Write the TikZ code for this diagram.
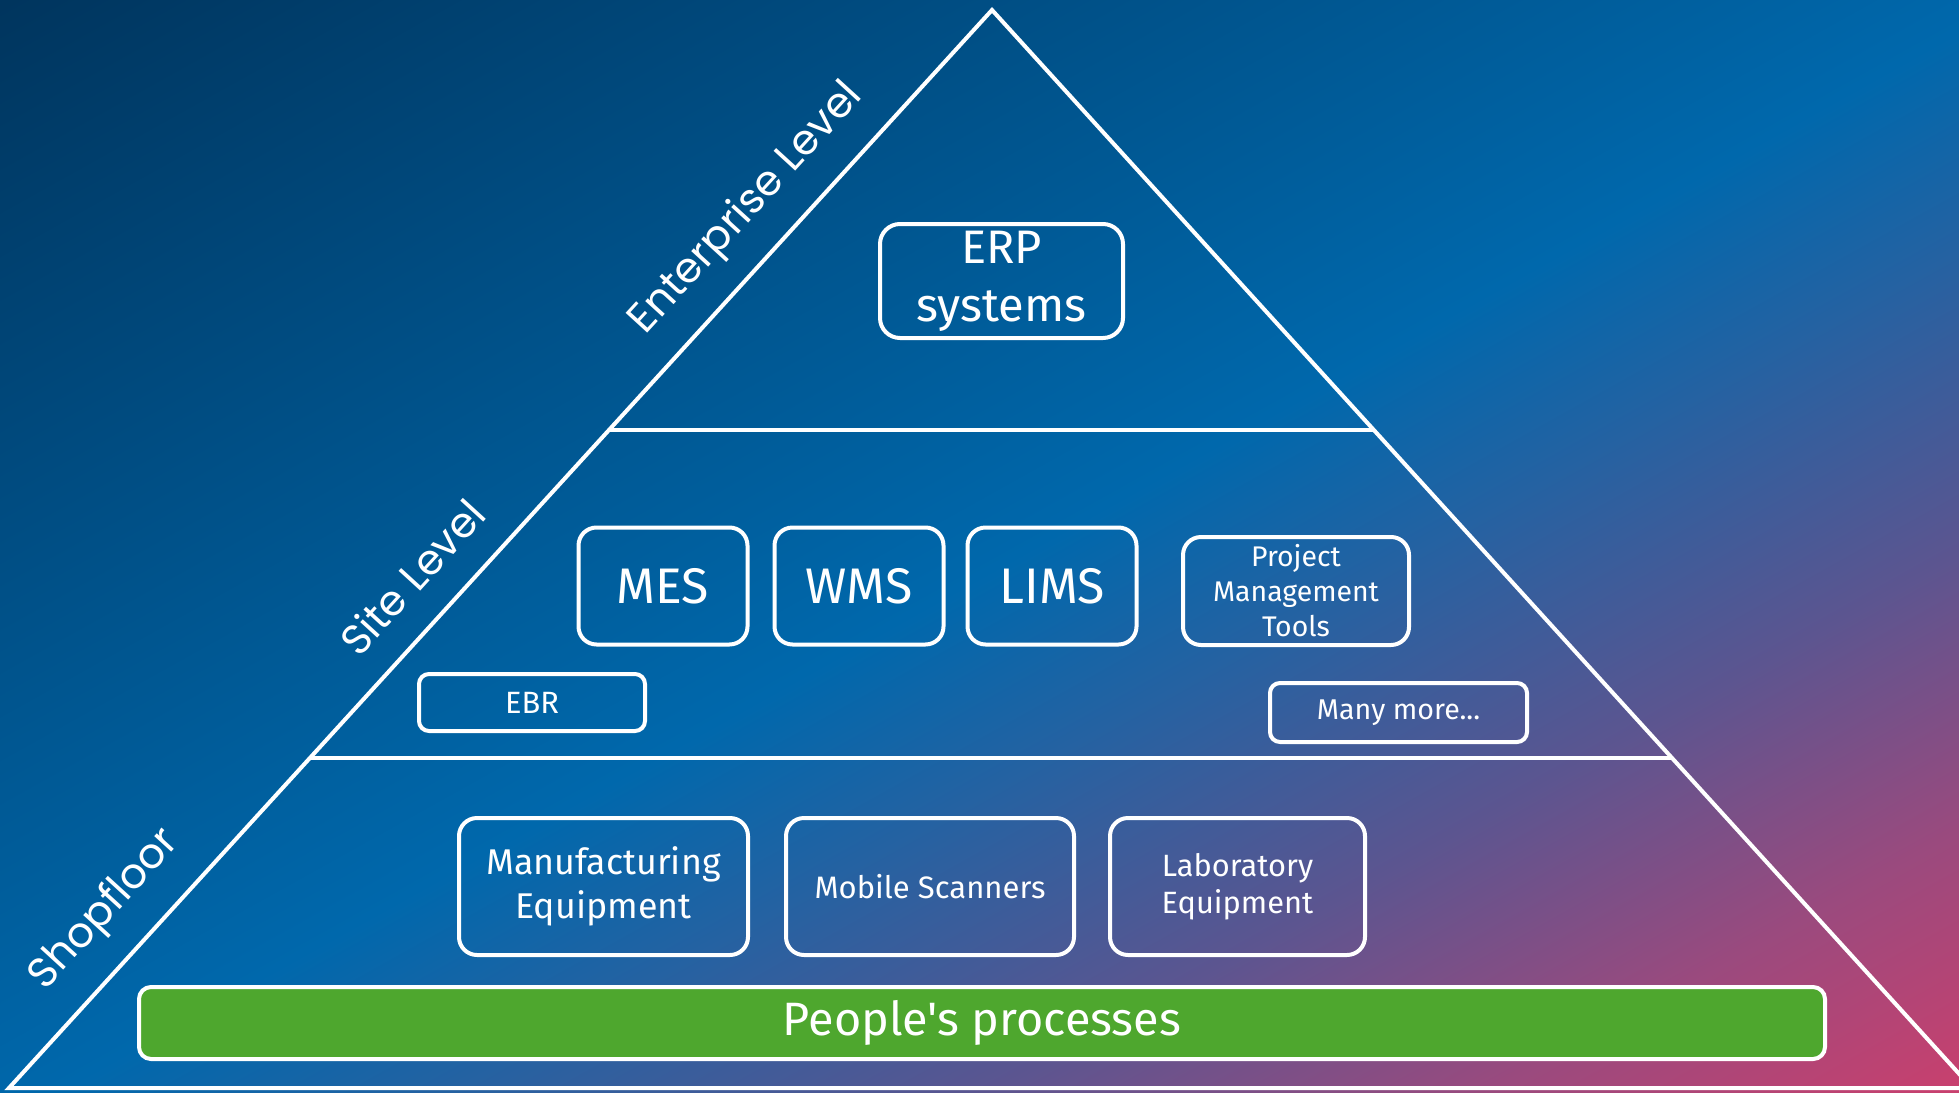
\documentclass[tikz,border=0pt]{standalone}
\usepackage{fontspec}
\setmainfont{Fira Sans}[Ligatures=TeXOff]
\newfontfamily\labfont{Poppins}
\usetikzlibrary{calc}
\definecolor{cNavy}{HTML}{00355E}
\definecolor{cBlueA}{HTML}{0061A1}
\definecolor{cBlueB}{HTML}{0068AC}
\definecolor{cBlueC}{HTML}{2462A2}
\definecolor{cPurp}{HTML}{5C5590}
\definecolor{cMag}{HTML}{9A4A7E}
\definecolor{cPink}{HTML}{C8406E}
\definecolor{cGreen}{HTML}{4EA72E}
\pgfdeclareverticalshading{bgshade}{100bp}{color(0bp)=(cPink); color(14.6bp)=(cPink); color(23bp)=(cMag); color(32bp)=(cPurp); color(42bp)=(cBlueC); color(49bp)=(cBlueB); color(54bp)=(cBlueA); color(85.4bp)=(cNavy); color(100bp)=(cNavy)}
\tikzset{
  box/.style={draw=white, line width=2pt, rounded corners=9pt, text=white, align=center, inner sep=0pt},
  smallbox/.style={box, rounded corners=5pt},
  lvl/.style={text=white, font=\labfont\fontsize{21}{25}\selectfont, rotate=47.6, inner sep=0pt},
  edge/.style={draw=white, line width=2pt}
}
\begin{document}
\begin{tikzpicture}[x=0.5pt, y=-0.5pt]
\useasboundingbox (0,0) rectangle (1959,1092);
\begin{scope}
\clip (0,0) rectangle (1959,1092);
\begin{scope}[transform canvas={xscale=1.79396}]
\shade[shading=bgshade, shading angle=45] (0,0) rectangle (1092,1092);
\end{scope}
\end{scope}
\begin{scope}
\clip (0,0) rectangle (1959,1092);
\coordinate (A) at (992,10);
\coordinate (L) at (9,1088);
\coordinate (R) at (1972,1088);
\coordinate (L1) at ($(A)!0.3896!(L)$);
\coordinate (R1) at ($(A)!0.3896!(R)$);
\coordinate (L2) at ($(A)!0.6939!(L)$);
\coordinate (R2) at ($(A)!0.6939!(R)$);
\draw[edge, line join=miter] (L) -- (A) -- (R) -- cycle;
\draw[edge] (L1) -- (R1);
\draw[edge] (L2) -- (R2);
\end{scope}

\node[lvl] (ent) at (747,209) {Enterprise Level};
\node[lvl] (site) at (412,577) {Site Level};
\node[lvl] (shop) at (105,910) {Shopfloor};

\node[box, rounded corners=10pt, minimum width=121.5pt, minimum height=57pt, font=\fontsize{23.5}{29}\selectfont] (erp) at (1001.5,281) {ERP\\systems};

\node[box, minimum width=84.5pt, minimum height=58.5pt, font=\fontsize{25}{29}\selectfont] (mes) at (663,586) {MES};
\node[box, minimum width=84.5pt, minimum height=58.5pt, font=\fontsize{25}{29}\selectfont] (wms) at (859,586) {WMS};
\node[box, minimum width=84.5pt, minimum height=58.5pt, font=\fontsize{25}{29}\selectfont] (lims) at (1052,586) {LIMS};
\node[box, minimum width=113pt, minimum height=54pt, font=\fontsize{14.2}{17.5}\selectfont] (pmt) at (1296,591) {Project\\Management\\Tools};
\node[smallbox, minimum width=113pt, minimum height=28.5pt, font=\fontsize{15.4}{18}\selectfont] (ebr) at (532,702.5) {EBR};
\node[smallbox, minimum width=128.5pt, minimum height=29.5pt, font=\fontsize{14.3}{17}\selectfont] (many) at (1398.5,712.5) {Many more...};

\node[box, minimum width=144.5pt, minimum height=68.5pt, font=\fontsize{17.9}{22}\selectfont] (mfg) at (603.5,886.5) {Manufacturing\\Equipment};
\node[box, minimum width=144pt, minimum height=68.5pt, font=\fontsize{15.5}{19}\selectfont] (mob) at (930,886.5) {Mobile Scanners};
\node[box, minimum width=127.5pt, minimum height=68.5pt, font=\fontsize{15.4}{18.7}\selectfont] (lab) at (1237.5,886.5) {Laboratory\\Equipment};

\node[box, fill=cGreen, rounded corners=6pt, minimum width=843pt, minimum height=36pt, font=\fontsize{23.4}{28}\selectfont] (people) at (982,1023) {People's processes};
\end{tikzpicture}
\end{document}
